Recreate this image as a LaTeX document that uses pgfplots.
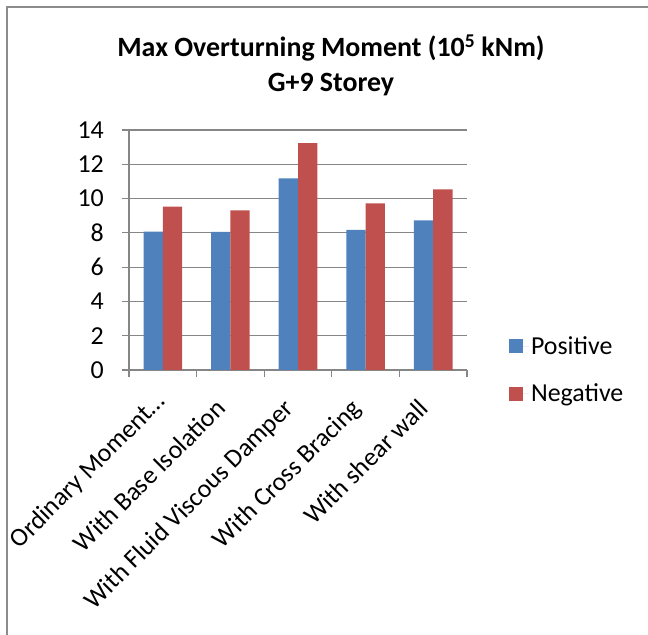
\documentclass[border=0pt]{standalone}
\usepackage{pgfplots}
\pgfplotsset{compat=1.18}
\usepackage{fontspec}
\setmainfont{Carlito}
\definecolor{posblue}{HTML}{4F81BD}
\definecolor{negred}{HTML}{C0504D}
\definecolor{gridgray}{HTML}{868686}
\definecolor{framegray}{HTML}{8C8C8C}
\begin{document}
\begin{tikzpicture}[x=1bp,y=1bp]
\path[use as bounding box] (0,0) rectangle (648,635);
\draw[framegray,line width=2bp] (7,0) -- (7,628) -- (648,628);
\node[font=\fontsize{28}{35}\selectfont\bfseries,align=center] at (331,570)
  {Max Overturning Moment (10\textsuperscript{5} kNm)\\G+9 Storey};
\begin{axis}[
  at={(129bp,265bp)}, anchor=south west,
  scale only axis, width=338bp, height=240bp,
  xmin=-0.5, xmax=4.5, ymin=0, ymax=14,
  ytick={0,2,...,14},
  xtick={0,1,2,3,4},
  xticklabels={\hbox{Ordinary Moment…\kern-10bp},With Base Isolation,With Fluid Viscous Damper,With Cross Bracing,With shear wall},
  minor xtick={-0.5,0.5,1.5,2.5,3.5,4.5},
  major tick length=7bp,
  minor tick length=7bp,
  major x tick style={draw=none},
  tick align=outside,
  xtick pos=bottom, ytick pos=left,
  axis x line*=bottom, axis y line*=left,
  axis line style={gridgray,line width=1.2bp,-},
  every tick/.style={gridgray,line width=1.2bp},
  ymajorgrids, major grid style={gridgray,line width=1.2bp},
  /pgf/number format/assume math mode=true,
  xticklabel style={xshift=-16bp,yshift=-20bp,rotate=45,anchor=north east,font=\fontsize{26}{30}\selectfont,inner sep=0bp},
  yticklabel style={font=\fontsize{26}{30}\selectfont,anchor=east,inner sep=0bp,xshift=-18bp},
  ybar=0pt, bar width=19.3bp,
  legend style={at={(1.115,0.157)},anchor=north west,draw=none,fill=none,
    font=\fontsize{26}{30}\selectfont,row sep=24bp},
  legend cell align=left,
  clip=false,
]
\addplot[fill=posblue,draw=none,
  legend image code/.code={\fill[posblue] (0bp,-7bp) rectangle (14bp,7bp);\path (14bp,0bp) -- (20bp,0bp);}]
  coordinates {(0,8.07) (1,8.05) (2,11.18) (3,8.17) (4,8.73)};
\addplot[fill=negred,draw=none,
  legend image code/.code={\fill[negred] (0bp,-7bp) rectangle (14bp,7bp);\path (14bp,0bp) -- (20bp,0bp);}]
  coordinates {(0,9.53) (1,9.31) (2,13.24) (3,9.72) (4,10.54)};
\legend{Positive,Negative}
\end{axis}
\end{tikzpicture}
\end{document}
